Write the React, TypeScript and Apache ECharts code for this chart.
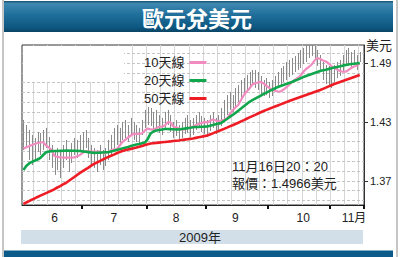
import React, { useEffect, useRef } from 'react';
import * as echarts from 'echarts';

const FONT = "'Liberation Sans', Arial, 'Noto Sans CJK TC', sans-serif";

const seriesNames = ['10天線', '20天線', '50天線'];

const ma10 = [
  1.4028, 1.4042, 1.4053, 1.4066, 1.4076, 1.4086, 1.4091, 1.4093, 1.4061, 1.4040,
  1.4015, 1.3954, 1.3944, 1.3939, 1.3937, 1.3937, 1.3937, 1.3937, 1.3939, 1.3951,
  1.3964, 1.3985, 1.4003, 1.4002, 1.3998, 1.3998, 1.3998, 1.3998, 1.3992, 1.3985,
  1.3995, 1.4010, 1.4022, 1.4022, 1.4056, 1.4096, 1.4117, 1.4142, 1.4162, 1.4180,
  1.4178, 1.4178, 1.4185, 1.4213, 1.4234, 1.4224, 1.4222, 1.4236, 1.4251, 1.4252,
  1.4264, 1.4295, 1.4295, 1.4254, 1.4246, 1.4234, 1.4222, 1.4224, 1.4236, 1.4246,
  1.4254, 1.4266, 1.4280, 1.4290, 1.4300, 1.4295, 1.4310, 1.4325, 1.4315, 1.4305,
  1.4315, 1.4322, 1.4335, 1.4376, 1.4417, 1.4447, 1.4473, 1.4524, 1.4574, 1.4610,
  1.4641, 1.4681, 1.4694, 1.4702, 1.4707, 1.4692, 1.4666, 1.4646, 1.4627, 1.4617,
  1.4610, 1.4610, 1.4630, 1.4651, 1.4676, 1.4707, 1.4727, 1.4747, 1.4773, 1.4808,
  1.4839, 1.4859, 1.4885, 1.4925, 1.4951, 1.4941, 1.4925, 1.4915, 1.4895, 1.4869,
  1.4849, 1.4834, 1.4818, 1.4811, 1.4811, 1.4829, 1.4849, 1.4864, 1.4874, 1.4895,
];

const ma20 = [
  1.3811, 1.3852, 1.3878, 1.3893, 1.3906, 1.3918, 1.3934, 1.3964, 1.3992, 1.4000, 1.4003,
  1.4004, 1.4005, 1.4006, 1.4007, 1.4008, 1.4008, 1.4007, 1.4007, 1.4006, 1.4005,
  1.4001, 1.3997, 1.3993, 1.3989, 1.3985, 1.3986, 1.3988, 1.3989, 1.3991, 1.3992,
  1.4000, 1.4007, 1.4015, 1.4022, 1.4030, 1.4038, 1.4046, 1.4055, 1.4063, 1.4071,
  1.4075, 1.4083, 1.4091, 1.4127, 1.4183, 1.4203, 1.4213, 1.4218, 1.4223, 1.4229,
  1.4228, 1.4227, 1.4226, 1.4224, 1.4223, 1.4228, 1.4232, 1.4237, 1.4241, 1.4246,
  1.4248, 1.4249, 1.4251, 1.4252, 1.4254, 1.4261, 1.4268, 1.4276, 1.4283, 1.4290,
  1.4310, 1.4330, 1.4351, 1.4371, 1.4391, 1.4414, 1.4437, 1.4459, 1.4482, 1.4505,
  1.4521, 1.4537, 1.4553, 1.4569, 1.4585, 1.4599, 1.4613, 1.4628, 1.4642, 1.4656,
  1.4666, 1.4676, 1.4687, 1.4697, 1.4707, 1.4719, 1.4731, 1.4744, 1.4756, 1.4768,
  1.4778, 1.4788, 1.4798, 1.4808, 1.4818, 1.4825, 1.4832, 1.4840, 1.4847, 1.4854,
  1.4860, 1.4866, 1.4873, 1.4879, 1.4885, 1.4889, 1.4893, 1.4896, 1.4900,
];

const ma50 = [
  1.3466, 1.3480, 1.3494, 1.3509, 1.3523, 1.3537,
  1.3550, 1.3563, 1.3576, 1.3589, 1.3602,
  1.3617, 1.3633, 1.3648, 1.3664, 1.3679,
  1.3699, 1.3720, 1.3740, 1.3761, 1.3781,
  1.3799, 1.3818, 1.3836, 1.3855, 1.3873,
  1.3887, 1.3901, 1.3916, 1.3930, 1.3944,
  1.3956, 1.3968, 1.3981, 1.3993, 1.4005,
  1.4012, 1.4019, 1.4026, 1.4033, 1.4040,
  1.4048, 1.4056, 1.4065, 1.4073, 1.4081,
  1.4084, 1.4087, 1.4090, 1.4093, 1.4096,
  1.4099, 1.4102, 1.4106, 1.4109, 1.4112,
  1.4116, 1.4120, 1.4124, 1.4128, 1.4132,
  1.4138, 1.4144, 1.4150, 1.4156, 1.4162,
  1.4173, 1.4184, 1.4196, 1.4207, 1.4218,
  1.4230, 1.4242, 1.4255, 1.4267, 1.4279,
  1.4292, 1.4306, 1.4319, 1.4333, 1.4346,
  1.4359, 1.4372, 1.4386, 1.4399, 1.4412,
  1.4423, 1.4434, 1.4446, 1.4457, 1.4468,
  1.4479, 1.4490, 1.4502, 1.4513, 1.4524,
  1.4534, 1.4544, 1.4554, 1.4564, 1.4574,
  1.4584, 1.4594, 1.4605, 1.4615, 1.4625,
  1.4637, 1.4649, 1.4662, 1.4674, 1.4686,
  1.4696, 1.4706, 1.4717, 1.4727, 1.4737,
  1.4747, 1.4758, 1.4768, 1.4778,
];

const barHigh = [
  1.4320, 1.4269, 1.4218, 1.4168, 1.4137, 1.4198, 1.4188, 1.4218, 1.4239, 1.4147,
  1.4066, 1.4015, 1.4035, 1.3995, 1.4066, 1.4117, 1.4015, 1.4086, 1.4137, 1.4117,
  1.4168, 1.4198, 1.4218, 1.4137, 1.4066, 1.4035, 1.4015, 1.4066, 1.4015, 1.4035,
  1.4117, 1.4168, 1.4239, 1.4269, 1.4239, 1.4300, 1.4320, 1.4269, 1.4341, 1.4300,
  1.4269, 1.4239, 1.4320, 1.4422, 1.4452, 1.4442, 1.4402, 1.4422, 1.4371, 1.4341,
  1.4402, 1.4422, 1.4371, 1.4300, 1.4320, 1.4269, 1.4300, 1.4341, 1.4371, 1.4320,
  1.4341, 1.4371, 1.4402, 1.4361, 1.4341, 1.4320, 1.4371, 1.4402, 1.4341, 1.4371,
  1.4442, 1.4524, 1.4574, 1.4605, 1.4574, 1.4646, 1.4676, 1.4727, 1.4747, 1.4778,
  1.4808, 1.4829, 1.4829, 1.4808, 1.4768, 1.4727, 1.4747, 1.4707, 1.4727, 1.4768,
  1.4808, 1.4849, 1.4870, 1.4910, 1.4931, 1.4951, 1.4971, 1.5002, 1.5032, 1.5053,
  1.5073, 1.5083, 1.5083, 1.5073, 1.5032, 1.4981, 1.4910, 1.4880, 1.4870, 1.4849,
  1.4880, 1.4910, 1.4931, 1.4981, 1.5032, 1.5053, 1.5012, 1.5032, 1.4981, 1.5012,
];

const barLow = [
  1.4015, 1.4035, 1.3913, 1.3862, 1.3913, 1.3995, 1.3964, 1.4015, 1.4035, 1.3913,
  1.3832, 1.3761, 1.3811, 1.3730, 1.3832, 1.3913, 1.3791, 1.3883, 1.3964, 1.3933,
  1.3995, 1.4015, 1.4035, 1.3933, 1.3862, 1.3832, 1.3791, 1.3862, 1.3811, 1.3852,
  1.3913, 1.3964, 1.4035, 1.4066, 1.4086, 1.4117, 1.4137, 1.4096, 1.4168, 1.4117,
  1.4096, 1.4066, 1.4168, 1.4239, 1.4269, 1.4259, 1.4218, 1.4239, 1.4188, 1.4168,
  1.4239, 1.4269, 1.4198, 1.4137, 1.4157, 1.4117, 1.4137, 1.4178, 1.4188, 1.4147,
  1.4168, 1.4218, 1.4239, 1.4198, 1.4178, 1.4147, 1.4208, 1.4239, 1.4178, 1.4198,
  1.4259, 1.4320, 1.4371, 1.4422, 1.4402, 1.4442, 1.4503, 1.4544, 1.4574, 1.4605,
  1.4646, 1.4676, 1.4646, 1.4625, 1.4585, 1.4564, 1.4574, 1.4544, 1.4564, 1.4605,
  1.4646, 1.4676, 1.4707, 1.4727, 1.4758, 1.4778, 1.4808, 1.4829, 1.4849, 1.4890,
  1.4910, 1.4951, 1.4971, 1.4931, 1.4870, 1.4808, 1.4727, 1.4686, 1.4666, 1.4646,
  1.4707, 1.4747, 1.4768, 1.4808, 1.4870, 1.4890, 1.4849, 1.4880, 1.4829, 1.4910,
];

const yLabelValues = [1.37, 1.43, 1.49];
const gridValues = [1.35, 1.36, 1.37, 1.38, 1.39, 1.40, 1.41, 1.42, 1.43, 1.44, 1.45, 1.46, 1.47, 1.48, 1.49, 1.50];
const monthLabelText = ['6', '7', '8', '9', '10', '11月'];
const monthLabelDates = ['2009-06-17', '2009-07-16', '2009-08-17', '2009-09-15', '2009-10-19', '2009-11-12'];
const firstDay = '2009-06-02';
const lastSlot = '2009-11-17';

const yearText = '2009年';
const noteLines = ['11月16日20：20', '報價：1.4966美元'];

function buildDays() {
  const out: { key: string; dow: number; month: number }[] = [];
  const [y0, m0, d0] = firstDay.split('-').map(Number);
  const [y1, m1, d1] = lastSlot.split('-').map(Number);
  let t = Date.UTC(y0, m0 - 1, d0);
  const end = Date.UTC(y1, m1 - 1, d1);
  while (t <= end) {
    const d = new Date(t);
    const dow = d.getUTCDay();
    if (dow !== 0 && dow !== 6) {
      const key = `${d.getUTCFullYear()}-${String(d.getUTCMonth() + 1).padStart(2, '0')}-${String(d.getUTCDate()).padStart(2, '0')}`;
      out.push({ key, dow, month: d.getUTCMonth() });
    }
    t += 86400000;
  }
  return out;
}

export default function App() {
  const ref = useRef<HTMLDivElement>(null);
  useEffect(() => {
    document.body.style.margin = '0';
    if (!ref.current) return;
    const chart = echarts.init(ref.current, undefined, { renderer: 'svg' });

    const days = buildDays();
    const categories = days.map((d) => d.key);
    const monthStart = new Set<number>();
    const mondays = new Set<number>();
    days.forEach((d, i) => {
      if (i > 0 && d.month !== days[i - 1].month) monthStart.add(i);
      if (d.dow === 1 && i > 0) mondays.add(i);
    });
    const labelMap: Record<string, string> = {};
    monthLabelDates.forEach((k, i) => (labelMap[k] = monthLabelText[i]));

    const barData = barHigh.map((h, i) => [i, barLow[i], h]);

    const option: any = {
      animation: false,
      backgroundColor: '#ffffff',
      textStyle: { fontFamily: FONT },
      title: {
        text: '歐元兌美元',
        left: 137,
        top: 1,
        textStyle: { color: '#ffffff', fontSize: 22, fontWeight: 'bold', fontFamily: "'Noto Sans CJK TC', sans-serif" },
      },
      legend: {
        orient: 'vertical',
        align: 'right',
        left: 139,
        top: 50,
        padding: 5,
        itemWidth: 17,
        itemHeight: 3,
        itemGap: 3,
        icon: 'rect',
        data: seriesNames,
        textStyle: { fontSize: 13, color: '#222', lineHeight: 15, fontFamily: FONT },
      },
      grid: {
        left: 22,
        top: 45,
        width: 342,
        height: 160,
        show: true,
        borderColor: '#333',
        borderWidth: 1,
        backgroundColor: 'transparent',
        containLabel: false,
        outerBoundsMode: 'none',
      },
      xAxis: {
        type: 'category',
        data: categories,
        boundaryGap: true,
        axisLine: { show: true, lineStyle: { color: '#222', width: 1 } },
        axisTick: {
          show: true,
          interval: (i: number) => monthStart.has(i),
          length: 4,
          lineStyle: { color: '#111', width: 2 },
        },
        axisLabel: {
          interval: (i: number) => labelMap[categories[i]] !== undefined,
          formatter: (v: string) => labelMap[v] || '',
          fontSize: 12,
          color: '#222',
          margin: 7,
          fontFamily: FONT,
        },
        splitLine: {
          show: true,
          interval: (i: number) => mondays.has(i),
          lineStyle: { color: '#d6d6d6', width: 1 },
        },
      },
      yAxis: {
        type: 'value',
        position: 'right',
        min: 1.3455,
        max: 1.5083,
        scale: true,
        name: '美元',
        nameLocation: 'end',
        nameGap: 0,
        nameTextStyle: { fontSize: 13, color: '#222', align: 'left', verticalAlign: 'middle', padding: [0, 0, 0, 2], fontFamily: FONT },
        axisLine: { show: true, lineStyle: { color: '#333' } },
        axisTick: { show: true, customValues: yLabelValues, length: 4, lineStyle: { color: '#333' } },
        axisLabel: {
          customValues: yLabelValues,
          formatter: (v: number) => v.toFixed(2),
          fontSize: 11,
          color: '#222',
          margin: 6,
          fontFamily: FONT,
        },
        splitLine: { show: false },
      },
      series: [
        {
          type: 'custom',
          name: 'bars',
          data: barData,
          encode: { x: 0, y: [1, 2] },
          z: 2,
          clip: true,
          renderItem: (params: any, api: any) => {
            const x = api.value(0);
            const lo = api.coord([x, api.value(1)]);
            const hi = api.coord([x, api.value(2)]);
            const px = Math.round(lo[0]) + 0.5;
            return {
              type: 'line',
              shape: { x1: px, y1: lo[1], x2: px, y2: hi[1] },
              style: { stroke: '#8a8a8a', lineWidth: 1 },
            };
          },
        },
        {
          type: 'line',
          name: seriesNames[0],
          data: ma10,
          color: '#f28cc0',
          symbol: 'none',
          z: 3,
          lineStyle: { width: 2.2, color: '#f28cc0' },
        },
        {
          type: 'line',
          name: seriesNames[1],
          data: ma20,
          color: '#10a64c',
          symbol: 'none',
          z: 4,
          lineStyle: { width: 2.6, color: '#10a64c' },
        },
        {
          type: 'line',
          name: seriesNames[2],
          data: ma50,
          color: '#ee1c25',
          symbol: 'none',
          z: 5,
          lineStyle: { width: 2.6, color: '#ee1c25' },
          markLine: {
            silent: true,
            z: 0.5,
            symbol: ['none', 'none'],
            label: { show: false },
            emphasis: { disabled: true },
            lineStyle: { color: '#c4c4c4', type: [3, 2], width: 1 },
            data: gridValues.map((v) => ({ yAxis: v })),
          },
        },
      ],
      graphic: [
        {
          type: 'rect',
          silent: true,
          z: 0,
          shape: { x: 4, y: 1, width: 389, height: 31 },
          style: {
            fill: new echarts.graphic.LinearGradient(0, 0, 0, 1, [
              { offset: 0, color: '#164f6e' },
              { offset: 0.08, color: '#3f88b0' },
              { offset: 0.45, color: '#1f6f9b' },
              { offset: 0.85, color: '#0d5781' },
              { offset: 1, color: '#0a4464' },
            ]),
          },
        },
        { type: 'rect', silent: true, shape: { x: 2, y: 0, width: 2, height: 257 }, style: { fill: '#c6c6c6' } },
        { type: 'rect', silent: true, shape: { x: 396, y: 0, width: 2, height: 257 }, style: { fill: '#c6c6c6' } },
        { type: 'rect', silent: true, z: 1, shape: { x: 23, y: 46, width: 101, height: 36 }, style: { fill: '#ffffff' } },
        { type: 'rect', silent: true, shape: { x: 21, y: 230, width: 342, height: 14 }, style: { fill: '#d2dee8' } },
        {
          type: 'text',
          silent: true,
          x: 200,
          y: 237,
          style: { text: yearText, fontSize: 13, fill: '#222', align: 'center', verticalAlign: 'middle', fontFamily: FONT },
        },
        { type: 'rect', silent: true, shape: { x: 4, y: 250.5, width: 389, height: 6.5 }, style: { fill: '#0b5a89' } },
        {
          type: 'text',
          silent: true,
          z: 6,
          x: 232,
          y: 166,
          style: { text: noteLines[0], fontSize: 13, fill: '#222', align: 'left', verticalAlign: 'middle', fontFamily: FONT },
        },
        {
          type: 'text',
          silent: true,
          z: 6,
          x: 232,
          y: 183,
          style: { text: noteLines[1], fontSize: 13, fill: '#222', align: 'left', verticalAlign: 'middle', fontFamily: FONT },
        },
      ],
    };
    chart.setOption(option);
    return () => chart.dispose();
  }, []);
  return <div ref={ref} style={{ width: 400, height: 257 }} />;
}
